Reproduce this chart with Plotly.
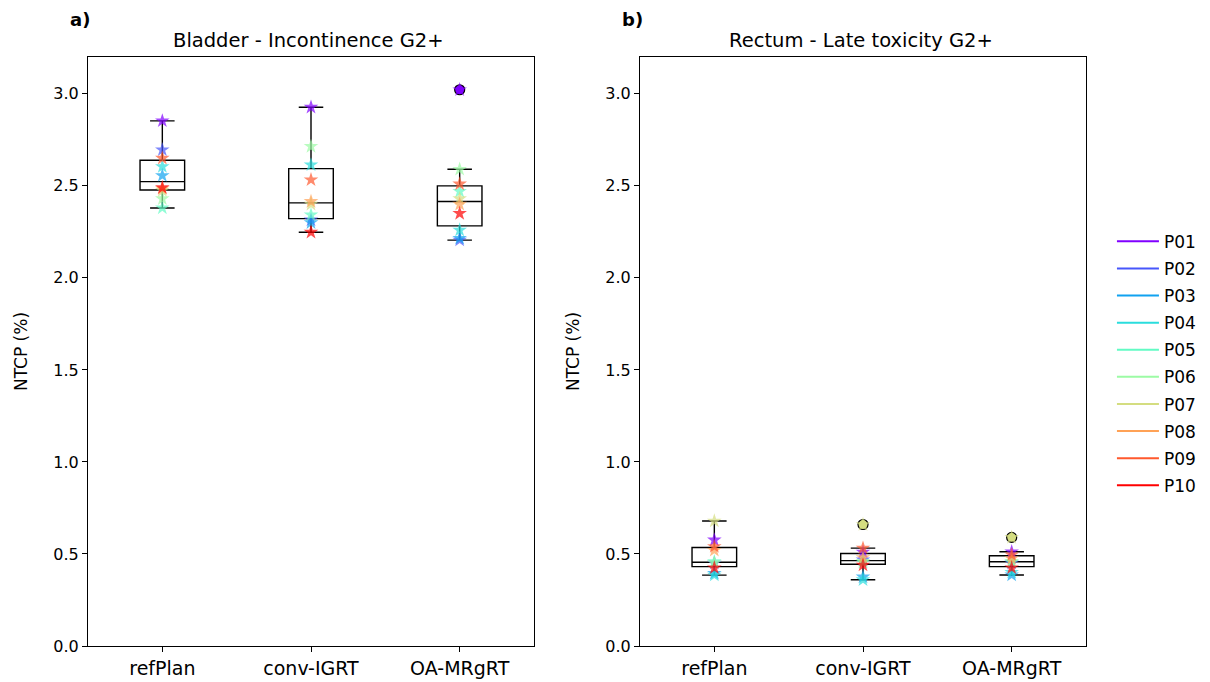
import numpy as np
import plotly.graph_objects as go

patients = ["P01", "P02", "P03", "P04", "P05", "P06", "P07", "P08", "P09", "P10"]
colors = ["#8000ff", "#4756fb", "#10a2f0", "#2adddd", "#62fbc4",
          "#9cfba5", "#d4dd80", "#ffa256", "#ff592d", "#ff0000"]
categories = ["refPlan", "conv-IGRT", "OA-MRgRT"]

# Bladder - Incontinence G2+ (NTCP %), per patient P01..P10
bladder_refplan = [2.853, 2.696, 2.556, 2.605, 2.380, 2.430, 2.475, 2.485, 2.650, 2.490]
bladder_conv = [2.927, 2.315, 2.300, 2.614, 2.342, 2.714, 2.400, 2.415, 2.533, 2.248]
bladder_oa = [3.022, 2.205, 2.215, 2.260, 2.470, 2.590, 2.430, 2.400, 2.510, 2.350]

# Rectum - Late toxicity G2+ (NTCP %), per patient P01..P10
rectum_refplan = [0.576, 0.450, 0.395, 0.385, 0.458, 0.452, 0.679, 0.520, 0.540, 0.425]
rectum_conv = [0.510, 0.468, 0.375, 0.360, 0.455, 0.460, 0.660, 0.480, 0.532, 0.440]
rectum_oa = [0.512, 0.450, 0.386, 0.400, 0.455, 0.460, 0.590, 0.475, 0.495, 0.425]

panels = [
    ("x", "y", [bladder_refplan, bladder_conv, bladder_oa]),
    ("x2", "y2", [rectum_refplan, rectum_conv, rectum_oa]),
]

fig = go.Figure()

for xa, ya, groups in panels:
    for pos, vals in enumerate(groups, start=1):
        v = np.array(vals)
        q1, med, q3 = np.percentile(v, [25, 50, 75])
        iqr = q3 - q1
        lo_lim, hi_lim = q1 - 1.5 * iqr, q3 + 1.5 * iqr
        inside = v[(v >= lo_lim) & (v <= hi_lim)]
        fig.add_trace(go.Box(
            x=[pos], q1=[q1], median=[med], q3=[q3],
            lowerfence=[inside.min()], upperfence=[inside.max()],
            width=0.3, whiskerwidth=0.55,
            line=dict(color="black", width=1.4),
            fillcolor="rgba(0,0,0,0)",
            boxpoints=False, showlegend=False, hoverinfo="skip",
            xaxis=xa, yaxis=ya,
        ))
        for i, val in enumerate(vals):
            if val < lo_lim or val > hi_lim:
                fig.add_trace(go.Scatter(
                    x=[pos], y=[val], mode="markers",
                    marker=dict(symbol="circle", size=10, color=colors[i],
                                line=dict(color="black", width=1.2)),
                    showlegend=False, xaxis=xa, yaxis=ya,
                ))
    for i, p in enumerate(patients):
        fig.add_trace(go.Scatter(
            x=[1, 2, 3], y=[groups[0][i], groups[1][i], groups[2][i]],
            mode="markers",
            marker=dict(symbol="star", size=11, color=colors[i], opacity=0.7,
                        line=dict(width=0)),
            showlegend=False, xaxis=xa, yaxis=ya,
        ))

for i, p in enumerate(patients):
    fig.add_trace(go.Scatter(x=[None], y=[None], mode="lines", name=p,
                             legendgroup=p,
                             line=dict(color=colors[i], width=2),
                             xaxis="x2", yaxis="y2"))

axis_common = dict(showline=True, linecolor="black", linewidth=1, mirror=True,
                   ticks="outside", ticklen=5, tickcolor="black", showgrid=False,
                   zeroline=False, automargin=False)
xfont = dict(family="DejaVu Sans", size=19, color="black")
yfont = dict(family="DejaVu Sans", size=16, color="black")

yticks = [0, 0.5, 1, 1.5, 2, 2.5, 3]

fig.update_layout(
    width=1210, height=682,
    margin=dict(l=88, r=124, t=57, b=36, autoexpand=False),
    plot_bgcolor="white", paper_bgcolor="white",
    font=dict(family="DejaVu Sans", color="black"),
    xaxis=dict(domain=[0, 446 / 998], range=[0.5, 3.5], tickvals=[1, 2, 3],
               ticktext=categories, anchor="y", tickfont=xfont, **axis_common),
    xaxis2=dict(domain=[552 / 998, 1], range=[0.5, 3.5], tickvals=[1, 2, 3],
                ticktext=categories, anchor="y2", tickfont=xfont, **axis_common),
    yaxis=dict(domain=[0, 1], range=[0, 3.2], tickvals=yticks,
               tickformat=".1f", anchor="x", tickfont=yfont,
               title=dict(text="NTCP (%)", font=dict(size=17), standoff=21), **axis_common),
    yaxis2=dict(domain=[0, 1], range=[0, 3.2], tickvals=yticks,
                tickformat=".1f", anchor="x2", tickfont=yfont,
                title=dict(text="NTCP (%)", font=dict(size=17), standoff=21), **axis_common),
    legend=dict(x=1.026, y=0.48, xanchor="left", yanchor="middle",
                font=dict(size=17), bgcolor="rgba(0,0,0,0)", tracegroupgap=2,
                itemwidth=42),
)

W_plot, H_plot = 1210 - 88 - 124, 682 - 57 - 36
texts = [
    ("Bladder - Incontinence G2+", 308, 40, 19.5),
    ("Rectum - Late toxicity G2+", 861, 40, 19.5),
    ("<b>a)</b>", 80, 20, 18),
    ("<b>b)</b>", 632, 20, 18),
]
for t, px, py, fs in texts:
    fig.add_annotation(text=t, x=(px - 88) / W_plot, y=(646 - py) / H_plot,
                       xref="paper", yref="paper", showarrow=False,
                       xanchor="center", yanchor="middle", font=dict(size=fs))

fig.write_html("out.html")
